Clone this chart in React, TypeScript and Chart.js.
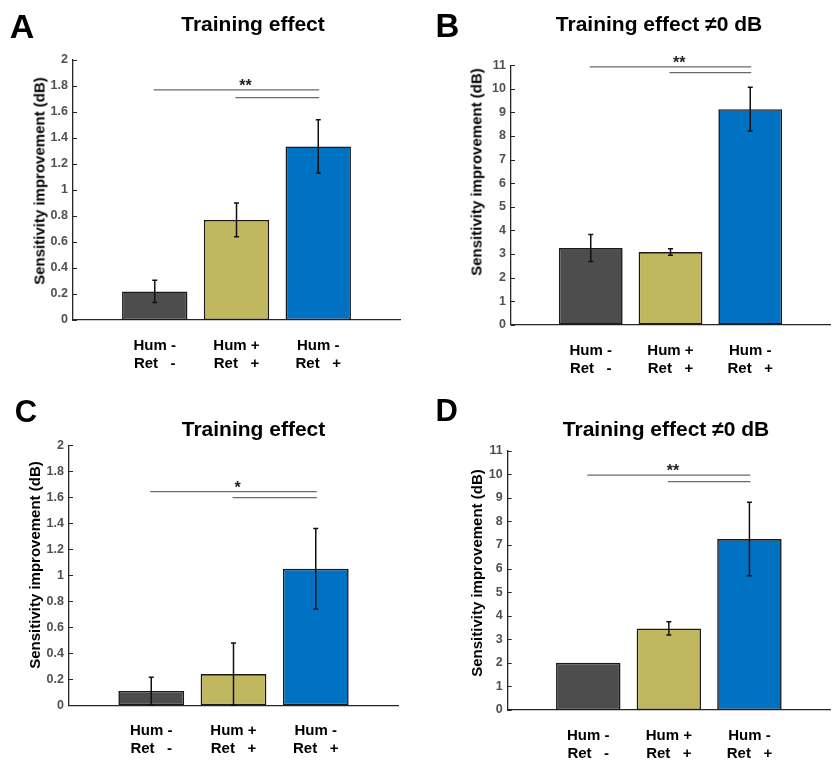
import React, { useEffect, useRef } from 'react';
import { Chart, registerables } from 'chart.js';

Chart.register(...registerables);

const FONT = '"Liberation Sans", Arial, Helvetica, sans-serif';
const AXIS_COLOR = '#262626';

// ---- data ----
const categories: string[][] = [
  ['Hum -', 'Ret   -'],
  ['Hum +', 'Ret   +'],
  ['Hum -', 'Ret   +'],
];
const barColors = ['#4d4d4d', '#c0b75f', '#0072c3'];

const meansA = [0.22, 0.77, 1.335];
const errorsA = [0.085, 0.13, 0.205];
const meansB = [3.25, 3.08, 9.14];
const errorsB = [0.57, 0.14, 0.93];
const meansC = [0.11, 0.24, 1.05];
const errorsC = [0.105, 0.24, 0.31];
const meansD = [2.0, 3.46, 7.25];
const errorsD = [0, 0.28, 1.56];

// significance brackets: [fromBar, toBar] (1-based) and their levels
const sigPairs = [
  [1, 3],
  [2, 3],
];
const sigLevelsA = [1.77, 1.71];
const sigLevelsB = [10.93, 10.69];
const sigLevelsC = [1.643, 1.597];
const sigLevelsD = [9.96, 9.69];
const starsA = '**';
const starsB = '**';
const starsC = '*';
const starsD = '**';

const titleShort = 'Training effect';
const titleNonZero = 'Training effect \u22600 dB';
const yAxisTitle = 'Sensitivity improvement (dB)';

type Rect = { left: number; top: number; width: number; height: number };
type Area = { left: number; top: number; right: number; bottom: number };

type PanelCfg = {
  letter: string;
  title: string;
  means: number[];
  errors: number[];
  yMax: number;
  yStep: number;
  sigLevels: number[];
  stars: string;
  starX: number;
  canvas: Rect;
  area: Area;
  letterPos: { x: number; y: number; size: number };
  titlePos: { x: number; y: number };
  yTitlePos: { x: number; y: number };
};

const panels: PanelCfg[] = [
  {
    letter: 'A',
    title: titleShort,
    means: meansA,
    errors: errorsA,
    yMax: 2,
    yStep: 0.2,
    sigLevels: sigLevelsA,
    stars: starsA,
    starX: 2.11,
    canvas: { left: 0, top: 0, width: 417, height: 385 },
    area: { left: 73, top: 60, right: 403, bottom: 320 },
    letterPos: { x: 22, y: 25.5, size: 34 },
    titlePos: { x: 253, y: 22.5 },
    yTitlePos: { x: 38.8, y: 181 },
  },
  {
    letter: 'B',
    title: titleNonZero,
    means: meansB,
    errors: errorsB,
    yMax: 11,
    yStep: 1,
    sigLevels: sigLevelsB,
    stars: starsB,
    starX: 2.11,
    canvas: { left: 417, top: 0, width: 430, height: 385 },
    area: { left: 511, top: 65.3, right: 840.5, bottom: 324.7 },
    letterPos: { x: 447.5, y: 25.3, size: 33 },
    titlePos: { x: 659, y: 22.8 },
    yTitlePos: { x: 475.5, y: 172 },
  },
  {
    letter: 'C',
    title: titleShort,
    means: meansC,
    errors: errorsC,
    yMax: 2,
    yStep: 0.2,
    sigLevels: sigLevelsC,
    stars: starsC,
    starX: 2.05,
    canvas: { left: 0, top: 385, width: 417, height: 386 },
    area: { left: 69, top: 445.3, right: 398, bottom: 705.3 },
    letterPos: { x: 26, y: 411, size: 31 },
    titlePos: { x: 253.5, y: 427.5 },
    yTitlePos: { x: 33.8, y: 564.5 },
  },
  {
    letter: 'D',
    title: titleNonZero,
    means: meansD,
    errors: errorsD,
    yMax: 11,
    yStep: 1,
    sigLevels: sigLevelsD,
    stars: starsD,
    starX: 2.05,
    canvas: { left: 417, top: 385, width: 430, height: 386 },
    area: { left: 507.7, top: 450.7, right: 837, bottom: 710 },
    letterPos: { x: 446.7, y: 409.5, size: 31 },
    titlePos: { x: 666, y: 427.5 },
    yTitlePos: { x: 475.5, y: 573 },
  },
];

const annotatePlugin = {
  id: 'annotate',
  afterDatasetsDraw(chart: any, _args: any, opts: any) {
    const { ctx, chartArea } = chart;
    const xs = chart.scales.x;
    const ys = chart.scales.y;
    ctx.save();
    // inward y ticks
    ctx.strokeStyle = AXIS_COLOR;
    ctx.lineWidth = 1;
    ys.ticks.forEach((t: any) => {
      const py = Math.round(ys.getPixelForValue(t.value)) + 0.5;
      ctx.beginPath();
      ctx.moveTo(chartArea.left, py);
      ctx.lineTo(chartArea.left + 4, py);
      ctx.stroke();
    });
    // error bars
    ctx.strokeStyle = '#111111';
    ctx.lineWidth = 1.5;
    (opts.means as number[]).forEach((m, i) => {
      const e = opts.errors[i];
      if (!e) return;
      const px = xs.getPixelForValue(i + 1);
      const yt = ys.getPixelForValue(m + e);
      const yb = ys.getPixelForValue(m - e);
      ctx.beginPath();
      ctx.moveTo(px, yt);
      ctx.lineTo(px, yb);
      ctx.moveTo(px - 2.5, yt);
      ctx.lineTo(px + 2.5, yt);
      ctx.moveTo(px - 2.5, yb);
      ctx.lineTo(px + 2.5, yb);
      ctx.stroke();
    });
    // significance lines
    ctx.strokeStyle = '#6a6a6a';
    ctx.lineWidth = 1.2;
    (opts.sigPairs as number[][]).forEach((pair, k) => {
      const py = ys.getPixelForValue(opts.sigLevels[k]);
      ctx.beginPath();
      ctx.moveTo(xs.getPixelForValue(pair[0]) - 1, py);
      ctx.lineTo(xs.getPixelForValue(pair[1]) + 1, py);
      ctx.stroke();
    });
    // stars
    ctx.fillStyle = '#222222';
    ctx.font = `bold 16px ${FONT}`;
    ctx.textAlign = 'center';
    ctx.textBaseline = 'alphabetic';
    const sy = ys.getPixelForValue(opts.sigLevels[0]) + 0.8;
    ctx.fillText(opts.stars, xs.getPixelForValue(opts.starX), sy);
    ctx.restore();
  },
};

function Panel({ cfg }: { cfg: PanelCfg }) {
  const ref = useRef<HTMLCanvasElement | null>(null);
  useEffect(() => {
    if (!ref.current) return;
    const c = cfg.canvas;
    const a = cfg.area;
    const yW = a.left - c.left;
    const xH = c.top + c.height - a.bottom;
    const padTop = a.top - c.top;
    const padRight = c.left + c.width - a.right;
    const labels: any[] = ['', ...categories, ''];
    const data: (number | null)[] = [null, ...cfg.means, null];
    const colors = ['#ffffff', ...barColors, '#ffffff'];
    const chart = new Chart(ref.current, {
      type: 'bar',
      data: {
        labels,
        datasets: [
          {
            data,
            backgroundColor: colors,
            borderColor: '#1a1a1a',
            borderWidth: 1.6,
            borderSkipped: false,
            barPercentage: 0.8,
            categoryPercentage: 1,
          },
        ],
      },
      plugins: [annotatePlugin],
      options: {
        responsive: false,
        animation: false,
        devicePixelRatio: 1,
        layout: { padding: { left: 0, top: padTop, right: padRight, bottom: 0 } },
        plugins: {
          legend: { display: false },
          tooltip: { enabled: false },
          title: { display: false },
          annotate: {
            means: cfg.means,
            errors: cfg.errors,
            sigPairs,
            sigLevels: cfg.sigLevels,
            stars: cfg.stars,
            starX: cfg.starX,
          },
        } as any,
        scales: {
          x: {
            type: 'category',
            offset: false,
            grid: { display: false, drawTicks: false },
            border: { display: true, color: AXIS_COLOR, width: 1.3 },
            ticks: {
              color: '#000000',
              padding: 17,
              maxRotation: 0,
              autoSkip: false,
              font: { family: FONT, size: 15, weight: 'bold', lineHeight: 1.2 },
            },
            afterFit: (s: any) => {
              s.height = xH;
            },
          },
          y: {
            min: 0,
            max: cfg.yMax,
            grid: { display: false, drawTicks: false },
            border: { display: true, color: AXIS_COLOR, width: 1.3 },
            ticks: {
              stepSize: cfg.yStep,
              color: '#505050',
              padding: 5,
              font: { family: FONT, size: 12.5, weight: 'bold' },
              callback: (v: any) => String(Number(Number(v).toFixed(2))),
            },
            afterFit: (s: any) => {
              s.width = yW;
            },
          },
        },
      } as any,
    });
    return () => chart.destroy();
  }, [cfg]);

  const c = cfg.canvas;
  const center: React.CSSProperties = {
    position: 'absolute',
    transform: 'translate(-50%, -50%)',
    whiteSpace: 'pre',
    lineHeight: 1,
    fontFamily: FONT,
    fontWeight: 'bold',
    color: '#000',
  };
  return (
    <>
      <canvas
        ref={ref}
        width={c.width}
        height={c.height}
        style={{ position: 'absolute', left: c.left, top: c.top, width: c.width, height: c.height }}
      />
      <div style={{ ...center, left: cfg.letterPos.x, top: cfg.letterPos.y, fontSize: cfg.letterPos.size }}>
        {cfg.letter}
      </div>
      <div style={{ ...center, left: cfg.titlePos.x, top: cfg.titlePos.y, fontSize: 21 }}>{cfg.title}</div>
      <div
        style={{
          ...center,
          left: cfg.yTitlePos.x,
          top: cfg.yTitlePos.y,
          fontSize: 15,
          transform: 'translate(-50%, -50%) rotate(-90deg)',
        }}
      >
        {yAxisTitle}
      </div>
    </>
  );
}

export default function App() {
  return (
    <div
      style={{
        position: 'absolute',
        left: 0,
        top: 0,
        width: 835,
        height: 771,
        overflow: 'hidden',
        background: '#ffffff',
      }}
    >
      {panels.map((p) => (
        <Panel key={p.letter} cfg={p} />
      ))}
    </div>
  );
}
